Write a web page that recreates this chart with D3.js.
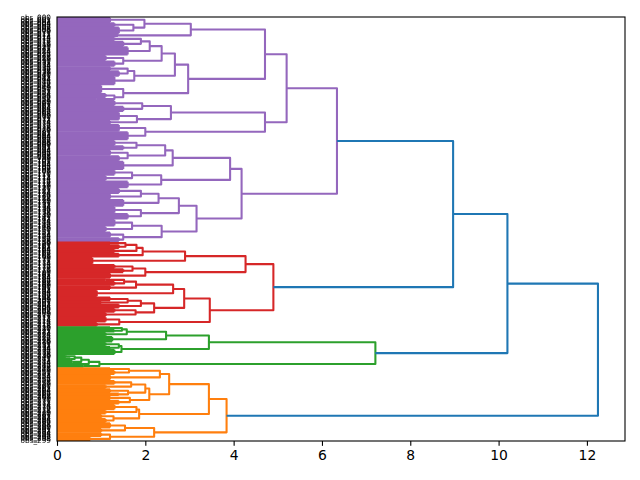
<!DOCTYPE html>
<html>
<head>
<meta charset="utf-8">
<script src="https://cdn.jsdelivr.net/npm/d3@7"></script>
<style>
  body { margin: 0; background: #fff; }
  text { font-family: "DejaVu Sans", sans-serif; }
  .leaf-labels { opacity: 0.999; will-change: transform; }
</style>
</head>
<body>
<svg id="chart" width="640" height="480"></svg>
<script>
// tree nodes: [mergeHeight, upperChild, lowerChild]
// leaf bunches: [leafCount, mergeHeight]
var purpleTree = [6.34,
  [5.2,
    [4.71,
      [3.03, [1.98, [4, 1.2], [1.73, [3, 1.3], [5, 1.4]]], [2, 1.38]],
      [2.97,
        [2.67,
          [2.37, [2.1, [1.9, [3, 1.3], [4, 1.5]], [6, 1.6]], [1.5, [4, 1.1], [4, 1.3]]],
          [1.75, [1.6, [3, 1.2], [4, 1.4]], [6, 1.3]]],
        [1.5, [6, 1.0], [1.3, [3, 1.1], [2, 0.9]]]]],
    [4.71,
      [2.58, [1.93, [4, 1.3], [4, 1.5]], [1.81, [6, 1.4], [3, 1.2]]],
      [2.0, [5, 1.4], [6, 1.6]]]],
  [4.18,
    [3.92,
      [2.62, [2.45, [1.8, [4, 1.3], [3, 1.5]], [1.6, [4, 1.2], [4, 1.4]]], [6, 1.5]],
      [2.36, [1.7, [4, 1.3], [4, 1.1]], [5, 1.6]]],
    [3.16,
      [2.76, [2.3, [1.9, [4, 1.4], [4, 1.2]], [5, 1.5]], [1.9, [5, 1.3], [4, 1.6]]],
      [2.37, [1.7, [5, 1.3], [4, 1.1]], [1.5, [4, 1.2], [3, 1.4]]]]]];

var redTree = [4.9,
  [4.27,
    [2.9, [1.94, [1.8, [1.55, [2, 1.2], [3, 1.4]], [3, 1.3]], [3, 1.4]], [5, 0.8]],
    [2.0, [1.71, [3, 1.3], [3, 1.5]], [4, 1.2]]],
  [3.46,
    [2.88,
      [2.63, [1.79, [1.52, [2, 1.1], [3, 1.3]], [3, 1.2]], [5, 0.9]],
      [2.2, [1.9, [1.6, [3, 1.2], [2, 1.0]], [3, 1.4]], [1.78, [3, 1.3], [3, 1.1]]]],
    [1.41, [4, 1.1], [3, 0.9]]]];

var greenTree = [7.21,
  [3.44,
    [2.47, [1.58, [1.47, [2, 1.2], [2, 1.3]], [3, 1.1]], [4, 1.25]],
    [1.46, [1.4, [3, 1.1], [2, 1.2]], [4, 1.3]]],
  [0.96, [0.72, [0.55, [0.4, [2, 0.2], [2, 0.3]], [2, 0.35]], [1, 0]], [2, 0.6]]];

var orangeTree = [3.84,
  [3.44,
    [2.54,
      [2.33, [1.63, [2, 1.2], [3, 1.3]], [4, 1.2]],
      [2.09, [2.0, [1.68, [3, 1.3], [3, 1.1]], [1.61, [3, 1.2], [2, 1.4]]], [1.65, [3, 1.2], [3, 1.4]]]],
    [1.86, [1.8, [4, 1.3], [3, 1.1]], [1.28, [3, 1.0], [3, 1.1]]]],
  [2.2, [1.54, [4, 1.2], [3, 1.0]], [1.2, [3, 1.0], [3, 0.75]]]];

var clusterTrees = [purpleTree, redTree, greenTree, orangeTree];
var clusterColors = ["#9467bd", "#d62728", "#2ca02c", "#ff7f0e"];
var linkColor = "#1f77b4";
// merges above the cut: purple+red, then +green, then +orange
var topHeights = [8.97, 10.2, 12.25];
var xTicks = [0, 2, 4, 6, 8, 10, 12];

var svg = d3.select("#chart");
var dims = { top: 17, bottom: 39, left: 57, right: 15 };
var width = 640 - dims.left - dims.right;
var height = 480 - dims.top - dims.bottom;

// lay out leaves in order, scipy style: a parent sits midway between its children
var links = [];
var leafCount = 0;
function layout(node, color) {
  if (node.length === 2) {
    var first = leafCount;
    leafCount += node[0];
    if (node[0] === 1) return { pos: first, h: 0 };
    links.push({ bunch: true, from: first, to: leafCount - 1, h: node[1], color: color });
    return { pos: (first + leafCount - 1) / 2, h: node[1] };
  }
  var a = layout(node[1], color);
  var b = layout(node[2], color);
  links.push({ a: a, b: b, h: node[0], color: color });
  return { pos: (a.pos + b.pos) / 2, h: node[0] };
}

var roots = clusterTrees.map((t, i) => layout(t, clusterColors[i]));
var joined = roots[0];
topHeights.forEach((h, i) => {
  var b = roots[i + 1];
  links.push({ a: joined, b: b, h: h, color: linkColor });
  joined = { pos: (joined.pos + b.pos) / 2, h: h };
});

var xScale = d3.scaleLinear().domain([0, topHeights[2] * 1.05]).range([0, width]);
var yScale = d3.scaleLinear().domain([0, leafCount]).range([0, height]);
var ly = (p) => yScale(p + 0.5);

var elements = svg.append("g")
  .attr("transform", "translate(" + dims.left + "," + dims.top + ")");

elements.append("clipPath").attr("id", "clip")
  .append("rect").attr("width", width).attr("height", height);

var plot = elements.append("g").attr("clip-path", "url(#clip)");

function linkPath(d) {
  var p = d3.path();
  if (d.bunch) {
    for (var i = d.from; i <= d.to; i++) {
      p.moveTo(xScale(0), ly(i));
      p.lineTo(xScale(d.h), ly(i));
    }
    p.moveTo(xScale(d.h), ly(d.from));
    p.lineTo(xScale(d.h), ly(d.to));
  } else {
    p.moveTo(xScale(d.a.h), ly(d.a.pos));
    p.lineTo(xScale(d.h), ly(d.a.pos));
    p.lineTo(xScale(d.h), ly(d.b.pos));
    p.lineTo(xScale(d.b.h), ly(d.b.pos));
  }
  return p.toString();
}

plot.selectAll("path.link")
  .data(links)
  .enter()
  .append("path")
  .attr("class", "link")
  .attr("d", linkPath)
  .attr("fill", "none")
  .attr("stroke", (d) => d.color)
  .attr("stroke-width", 2.08)
  .attr("stroke-linejoin", "round")
  .attr("stroke-linecap", "butt");

// leaf labels (too small to read in the reference)
var leafLabels = d3.range(leafCount).map((i) => "obs_" + String(i).padStart(3, "0"));
elements.append("g")
  .attr("class", "leaf-labels")
  .selectAll("text")
  .data(leafLabels)
  .enter()
  .append("text")
  .text((d) => d)
  .attr("x", -6)
  .attr("y", (d, i) => ly(i))
  .attr("dy", "0.35em")
  .attr("text-anchor", "end")
  .attr("font-size", 7.3)
  .attr("fill", "#000");

var xAxis = d3.axisBottom(xScale).tickValues(xTicks).tickFormat(d3.format("d"))
  .tickSize(4.86).tickPadding(4.5);
var axisG = elements.append("g")
  .attr("transform", "translate(0," + height + ")")
  .call(xAxis);
axisG.select(".domain").remove();
axisG.selectAll(".tick line").attr("stroke", "#000").attr("stroke-width", 1.1);
axisG.selectAll(".tick text")
  .attr("font-size", 13.9)
  .attr("font-family", "DejaVu Sans")
  .attr("fill", "#000");

elements.append("rect")
  .attr("width", width)
  .attr("height", height)
  .attr("fill", "none")
  .attr("stroke", "#000")
  .attr("stroke-width", 1.1);
</script>
</body>
</html>
